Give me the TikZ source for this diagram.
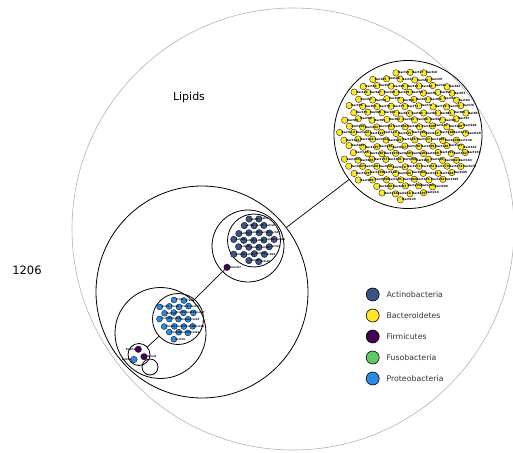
\documentclass[tikz,border=0pt]{standalone}
\usepackage{fontspec}
\setmainfont{DejaVu Sans}
\definecolor{actcol}{HTML}{3B528B}
\definecolor{bactcol}{HTML}{FDE725}
\definecolor{firmcol}{HTML}{440154}
\definecolor{fusocol}{HTML}{5EC962}
\definecolor{protcol}{HTML}{2B8AE6}
\pgfdeclarelayer{fg}
\pgfsetlayers{main,fg}
\begin{document}
\begin{tikzpicture}[x=1pt,y=-1pt,
  grp/.style={circle,draw,line width=0.8pt,inner sep=0pt},
  dot/.style={circle,draw=black,line width=0.3pt,inner sep=0pt,minimum size=6.5pt},
  tiny/.style={font=\fontsize{2.9}{3.1}\selectfont\bfseries,inner sep=0pt,anchor=west},
  tinier/.style={tiny,font=\fontsize{2.5}{2.7}\selectfont\bfseries},
  legdot/.style={circle,draw=black,line width=0.6pt,inner sep=0pt,minimum size=13pt},
  legtext/.style={font=\fontsize{7.8}{9}\selectfont,text=black!80,anchor=west}]
\useasboundingbox (0,0) rectangle (513,452);

\node[circle,draw=black!30,line width=0.6pt,minimum size=442pt] (lipgrp) at (293,229) {};
\node (liplab) at (189,97) {\fontsize{11}{13}\selectfont Lipids};
\node (sizelab) at (27,270) {\fontsize{11.5}{13}\selectfont 1206};

% groups
\node[grp,minimum size=148pt] (bactgrp) at (408,134.5) {};
\node[grp,minimum size=212pt] (mixgrp) at (202,292) {};
\node[grp,minimum size=72pt] (actout) at (248,246) {};
\node[grp,minimum size=53pt] (actgrp) at (254,240.5) {};
\node[grp,minimum size=91pt] (protout) at (160.5,333) {};
\node[grp,minimum size=51pt] (protgrp) at (178,319) {};
\node[grp,minimum size=22pt] (firmgrp) at (139,354.5) {};
\node[grp,minimum size=16pt] (emptygrp) at (150,367) {};

\pgfmathsetseed{11}
\foreach \r in {0,...,20}{
  \foreach \c in {0,...,10}{
    \pgfmathsetmacro{\px}{335+\c*14+mod(\r,3)*4.7+0.5*rand}
    \pgfmathsetmacro{\py}{66+\r*6.7+0.8*rand}
    \pgfmathsetmacro{\dd}{veclen(\px-404,\py-134.5)}
    \pgfmathtruncatemacro{\n}{\r*11+\c+1}
    \ifdim\dd pt<66pt
      \node[dot,fill=bactcol] (b\n) at (\px,\py) {};
      \begin{pgfonlayer}{fg}
        \node[tiny] (bl\n) at ([xshift=-1.5pt]b\n.east) {Bact\n};
      \end{pgfonlayer}
    \fi
  }
}

\foreach \r in {0,...,6}{
  \foreach \c in {0,...,5}{
    \pgfmathsetmacro{\px}{229+\c*10+mod(\r,2)*5+0.4*rand}
    \pgfmathsetmacro{\py}{219+\r*7+0.6*rand}
    \pgfmathsetmacro{\dd}{veclen(\px-252,\py-240.5)}
    \pgfmathtruncatemacro{\n}{\r*6+\c+1}
    \ifdim\dd pt<23pt
      \node[dot,fill=actcol] (a\n) at (\px,\py) {};
      \begin{pgfonlayer}{fg}
        \node[tinier] (al\n) at ([xshift=-1.5pt]a\n.east) {Acti\n};
      \end{pgfonlayer}
    \fi
  }
}

\foreach \r in {0,...,6}{
  \foreach \c in {0,...,5}{
    \pgfmathsetmacro{\px}{155+\c*9.5+mod(\r,2)*4.7+0.4*rand}
    \pgfmathsetmacro{\py}{300+\r*6.5+0.6*rand}
    \pgfmathsetmacro{\dd}{veclen(\px-176,\py-319)}
    \pgfmathtruncatemacro{\n}{\r*6+\c+1}
    \ifdim\dd pt<21pt
      \node[dot,fill=protcol,minimum size=6pt] (p\n) at (\px,\py) {};
      \begin{pgfonlayer}{fg}
        \node[tinier] (pl\n) at ([xshift=-1.5pt]p\n.east) {Prot\n};
      \end{pgfonlayer}
    \fi
  }
}

\node[dot,fill=firmcol] (firm317) at (227,267.3) {};
\node[tinier] (firm317l) at ([xshift=-1pt]firm317.east) {Firm317};
\node[dot,fill=firmcol] (firm12) at (138.3,349.3) {};
\node[tinier,anchor=east] (firm12l) at ([xshift=1pt]firm12.west) {Firm12};
\node[dot,fill=firmcol] (firm41) at (144,356.7) {};
\node[tinier] (firm41l) at ([xshift=-1pt]firm41.east) {Firm41};
\node[dot,fill=protcol] (prot90) at (134,359.5) {};
\node[tinier,anchor=east] (prot90l) at ([xshift=1pt]prot90.west) {Prot90};

\draw[line width=0.7pt] (bactgrp) -- (mixgrp);
\draw[line width=0.7pt] (firm317) -- (protout);
\draw[line width=0.7pt] (firmgrp) -- (protgrp);

% legend
\foreach \col/\name [count=\i] in {actcol/Actinobacteria,bactcol/Bacteroidetes,firmcol/Firmicutes,fusocol/Fusobacteria,protcol/Proteobacteria}{
  \node[legdot,fill=\col] (leg\i) at (372.7,273.5+\i*21) {};
  \node[legtext] (legl\i) at (383,273.5+\i*21) {\name};
}
\end{tikzpicture}
\end{document}
